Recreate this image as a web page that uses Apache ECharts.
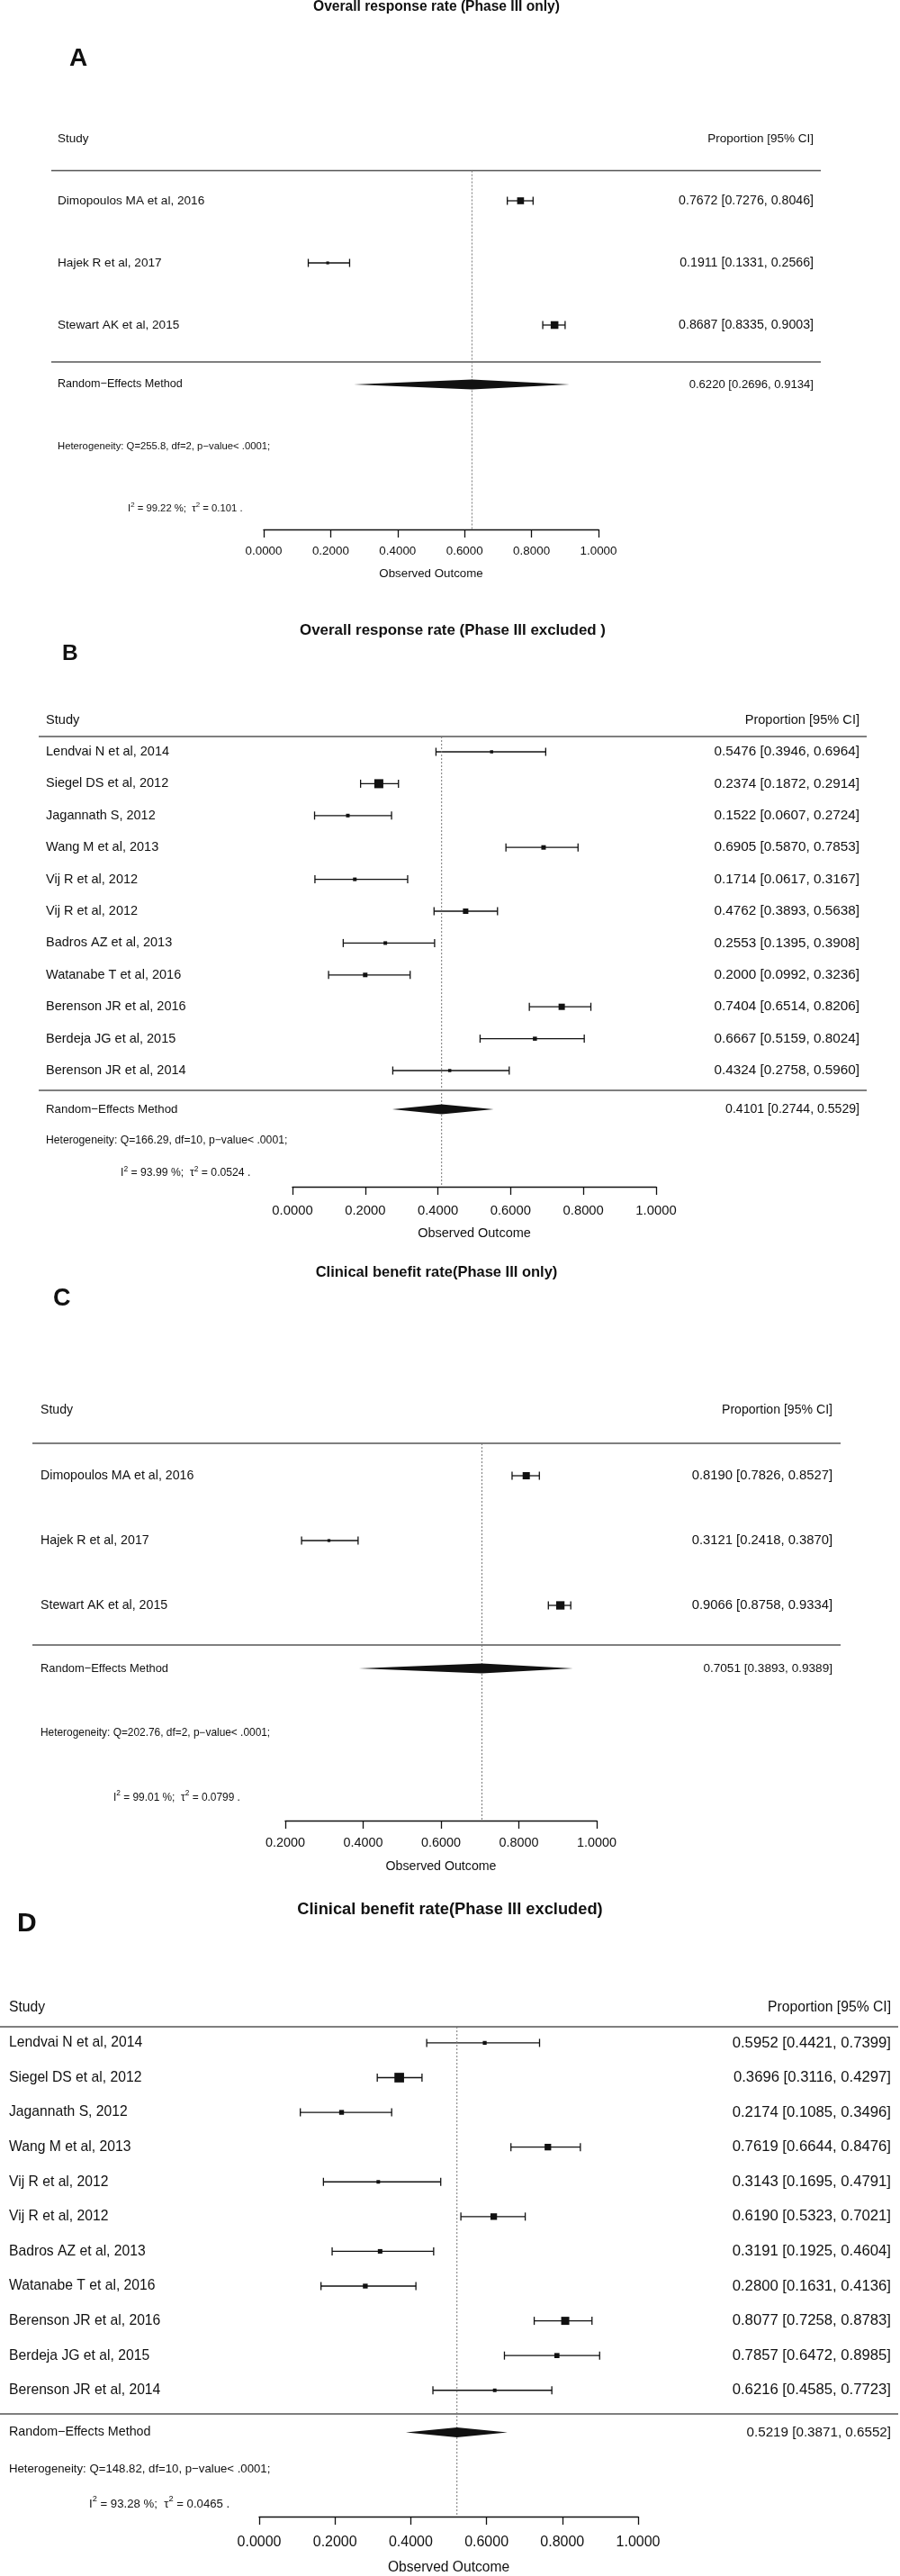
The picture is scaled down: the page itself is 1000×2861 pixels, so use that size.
<!DOCTYPE html>
<html><head><meta charset="utf-8">
<script src="https://cdn.jsdelivr.net/npm/echarts@6/dist/echarts.min.js"></script>
<style>html,body{margin:0;padding:0;background:#fff}#c{width:1000px;height:2861px}</style>
</head><body><div id="c"></div>
<script>
// ================= DATA =================
const panelTitles = ['Overall response rate (Phase III only)', 'Overall response rate (Phase III excluded )',
  'Clinical benefit rate(Phase III only)', 'Clinical benefit rate(Phase III excluded)'];
const panelLetters = ['A', 'B', 'C', 'D'];
const headerLeft = 'Study';
const headerRight = 'Proportion [95% CI]';
const summaryLabel = 'Random\u2212Effects Method';
const axisName = 'Observed Outcome';

// Panel A
const studiesA = ['Dimopoulos MA et al, 2016', 'Hajek R et al, 2017', 'Stewart AK et al, 2015'];
const estA  = [0.7672, 0.1911, 0.8687];
const lowA  = [0.7276, 0.1331, 0.8335];
const highA = [0.8046, 0.2566, 0.9003];
const wtA   = [0.85, 0.35, 0.95];
const summaryA = [0.6220, 0.2696, 0.9134];
const hetA = ['255.8', '2', '99.22', '0.101'];
const rangeA = [0, 1];

// Panel B
const studiesB = ['Lendvai N et al, 2014', 'Siegel DS et al, 2012', 'Jagannath S, 2012', 'Wang M et al, 2013',
  'Vij R et al, 2012', 'Vij R et al, 2012', 'Badros AZ et al, 2013', 'Watanabe T et al, 2016',
  'Berenson JR et al, 2016', 'Berdeja JG et al, 2015', 'Berenson JR et al, 2014'];
const estB  = [0.5476, 0.2374, 0.1522, 0.6905, 0.1714, 0.4762, 0.2553, 0.2000, 0.7404, 0.6667, 0.4324];
const lowB  = [0.3946, 0.1872, 0.0607, 0.5870, 0.0617, 0.3893, 0.1395, 0.0992, 0.6514, 0.5159, 0.2758];
const highB = [0.6964, 0.2914, 0.2724, 0.7853, 0.3167, 0.5638, 0.3908, 0.3236, 0.8206, 0.8024, 0.5960];
const wtB   = [0.35, 1.0, 0.4, 0.5, 0.4, 0.6, 0.4, 0.5, 0.7, 0.45, 0.35];
const summaryB = [0.4101, 0.2744, 0.5529];
const hetB = ['166.29', '10', '93.99', '0.0524'];
const rangeB = [0, 1];

// Panel C
const studiesC = ['Dimopoulos MA et al, 2016', 'Hajek R et al, 2017', 'Stewart AK et al, 2015'];
const estC  = [0.8190, 0.3121, 0.9066];
const lowC  = [0.7826, 0.2418, 0.8758];
const highC = [0.8527, 0.3870, 0.9334];
const wtC   = [0.86, 0.35, 1.0];
const summaryC = [0.7051, 0.3893, 0.9389];
const hetC = ['202.76', '2', '99.01', '0.0799'];
const rangeC = [0.2, 1];

// Panel D
const studiesD = ['Lendvai N et al, 2014', 'Siegel DS et al, 2012', 'Jagannath S, 2012', 'Wang M et al, 2013',
  'Vij R et al, 2012', 'Vij R et al, 2012', 'Badros AZ et al, 2013', 'Watanabe T et al, 2016',
  'Berenson JR et al, 2016', 'Berdeja JG et al, 2015', 'Berenson JR et al, 2014'];
const estD  = [0.5952, 0.3696, 0.2174, 0.7619, 0.3143, 0.6190, 0.3191, 0.2800, 0.8077, 0.7857, 0.6216];
const lowD  = [0.4421, 0.3116, 0.1085, 0.6644, 0.1695, 0.5323, 0.1925, 0.1631, 0.7258, 0.6472, 0.4585];
const highD = [0.7399, 0.4297, 0.3496, 0.8476, 0.4791, 0.7021, 0.4604, 0.4136, 0.8783, 0.8985, 0.7723];
const wtD   = [0.4, 1.0, 0.5, 0.68, 0.37, 0.68, 0.47, 0.5, 0.84, 0.53, 0.37];
const summaryD = [0.5219, 0.3871, 0.6552];
const hetD = ['148.82', '10', '93.28', '0.0465'];
const rangeD = [0, 1];
const tickStep = 0.2;

// ================= LAYOUT / STYLE =================
const FONT = '"Liberation Sans", Arial, Helvetica, sans-serif';
const INK = '#111';
const LINE = '#555';
const LAYOUT = [
 {row0:223, step:69, sumY:427, top:189.5, bot:402, axisY:588, ax0:293, ax1:665, lineX0:57, lineX1:912, labelX:64, valueX:904,
  headerY:154, hetY:496, i2X:142, i2Y:565, titleX:485, titleY:8, titleFs:15.6, letterX:77, letterY:65, letterFs:28,
  labelFs:13.6, valueFs:14.2, headFs:13.5, sumLabelFs:12.6, sumValueFs:13.1, hetFs:11.3, tickFs:13.4, lblMargin:18, obsFs:13.3, nameGap:43, sq:9},
 {row0:835, step:35.4, sumY:1232, top:818, bot:1211, axisY:1318, ax0:325, ax1:729, lineX0:43, lineX1:963, labelX:51, valueX:955,
  headerY:800, hetY:1267, i2X:134, i2Y:1303, titleX:503, titleY:700, titleFs:16.9, letterX:69, letterY:726, letterFs:24.5,
  labelFs:14.5, valueFs:15.3, headFs:14.6, sumLabelFs:13.3, sumValueFs:14.1, hetFs:12.2, tickFs:14.8, lblMargin:19, obsFs:14.5, nameGap:44.5, sq:10},
 {row0:1639, step:72, sumY:1853, top:1603, bot:1827, axisY:2022, ax0:317, ax1:663, lineX0:36, lineX1:934, labelX:45, valueX:925,
  headerY:1566, hetY:1925, i2X:126, i2Y:1997, titleX:485, titleY:1413, titleFs:16.5, letterX:59, letterY:1443, letterFs:27,
  labelFs:14.2, valueFs:14.8, headFs:14.1, sumLabelFs:12.9, sumValueFs:13.6, hetFs:11.9, tickFs:14.4, lblMargin:18, obsFs:14.2, nameGap:44, sq:9.3},
 {row0:2269, step:38.8, sumY:2704, top:2251, bot:2681, axisY:2798, ax0:288, ax1:709, lineX0:0, lineX1:998, labelX:10, valueX:990,
  headerY:2230, hetY:2742, i2X:99, i2Y:2781, titleX:500, titleY:2121, titleFs:18.3, letterX:19, letterY:2137, letterFs:30,
  labelFs:15.7, valueFs:16.7, headFs:15.7, sumLabelFs:14.3, sumValueFs:15.2, hetFs:13.2, tickFs:16, lblMargin:21, obsFs:15.6, nameGap:49, sq:10.7}
];

const PANELS = [
  {names:studiesA, est:estA, low:lowA, high:highA, wt:wtA, sum:summaryA, het:hetA, range:rangeA},
  {names:studiesB, est:estB, low:lowB, high:highB, wt:wtB, sum:summaryB, het:hetB, range:rangeB},
  {names:studiesC, est:estC, low:lowC, high:highC, wt:wtC, sum:summaryC, het:hetC, range:rangeC},
  {names:studiesD, est:estD, low:lowD, high:highD, wt:wtD, sum:summaryD, het:hetD, range:rangeD}
];

const fmtCI = (e, l, h) => e.toFixed(4) + ' [' + l.toFixed(4) + ', ' + h.toFixed(4) + ']';
const txt = (x, y, text, fs, align, bold) => ({
  type: 'text', x: x, y: y, silent: true,
  style: {text: text, fill: INK, font: (bold ? 'bold ' : '') + fs + 'px ' + FONT,
    align: align, verticalAlign: 'middle', textAlign: align, textVerticalAlign: 'middle'}
});
// text with raised superscript "2"
const supTxt = (x, y, parts, fs) => ({
  type: 'text', x: x, y: y, silent: true,
  style: {
    text: parts.map(p => p.sup ? '{s|' + p.t + '}' : '{n|' + p.t + '}').join(''),
    align: 'left', verticalAlign: 'middle', textAlign: 'left', textVerticalAlign: 'middle',
    rich: {
      n: {fontSize: fs, fontFamily: FONT, fill: INK, color: INK, lineHeight: fs * 1.5, verticalAlign: 'middle'},
      s: {fontSize: fs * 0.7, fontFamily: FONT, fill: INK, color: INK, lineHeight: fs * 0.8, verticalAlign: 'top'}
    }
  }
});
const CAP = 4.5;

const grids = [], xAxes = [], yAxes = [], series = [], graphics = [];

PANELS.forEach((P, i) => {
  const L = LAYOUT[i];
  grids.push({left: L.ax0, width: L.ax1 - L.ax0, top: L.top, height: L.axisY - L.top});
  xAxes.push({
    gridIndex: i, type: 'value', min: P.range[0], max: P.range[1], interval: tickStep, position: 'bottom',
    axisLine: {show: true, onZero: false, lineStyle: {color: INK, width: 1.3}},
    axisTick: {show: true, inside: false, length: 9, lineStyle: {color: INK, width: 1.3}},
    axisLabel: {margin: L.lblMargin, fontSize: L.tickFs, fontFamily: FONT, color: INK,
      formatter: v => Number(v).toFixed(4), showMinLabel: true, showMaxLabel: true},
    splitLine: {show: false},
    name: axisName, nameLocation: 'middle', nameGap: L.nameGap,
    nameTextStyle: {fontSize: L.obsFs, fontFamily: FONT, color: INK}
  });
  yAxes.push({gridIndex: i, type: 'value', inverse: true, show: false,
    min: (L.top - L.row0) / L.step, max: (L.axisY - L.row0) / L.step});

  // individual studies
  series.push({
    type: 'custom', xAxisIndex: i, yAxisIndex: i, clip: false, silent: true,
    data: P.names.map((n, k) => [k, P.est[k], P.low[k], P.high[k], P.wt[k]]),
    encode: {x: [1, 2, 3], y: 0},
    renderItem: (params, api) => {
      const k = api.value(0);
      const e = api.coord([api.value(1), k]);
      const lo = api.coord([api.value(2), k]);
      const hi = api.coord([api.value(3), k]);
      const y = e[1];
      const s = L.sq * api.value(4);
      const ls = {stroke: INK, lineWidth: 1.3};
      const idx = params.dataIndex;
      return {type: 'group', children: [
        {type: 'line', shape: {x1: lo[0], y1: y, x2: hi[0], y2: y}, style: ls},
        {type: 'line', shape: {x1: lo[0], y1: y - CAP, x2: lo[0], y2: y + CAP}, style: ls},
        {type: 'line', shape: {x1: hi[0], y1: y - CAP, x2: hi[0], y2: y + CAP}, style: ls},
        {type: 'rect', shape: {x: e[0] - s / 2, y: y - s / 2, width: s, height: s}, style: {fill: INK}},
        txt(L.labelX, y, P.names[idx], L.labelFs, 'left'),
        txt(L.valueX, y, fmtCI(P.est[idx], P.low[idx], P.high[idx]), L.valueFs, 'right')
      ]};
    }
  });

  // summary diamond + reference line
  const sumRow = (L.sumY - L.row0) / L.step;
  series.push({
    type: 'custom', xAxisIndex: i, yAxisIndex: i, clip: false, silent: true,
    data: [[sumRow, P.sum[0], P.sum[1], P.sum[2]]],
    encode: {x: [1, 2, 3], y: 0},
    renderItem: (params, api) => {
      const r = api.value(0);
      const e = api.coord([api.value(1), r]);
      const lo = api.coord([api.value(2), r]);
      const hi = api.coord([api.value(3), r]);
      const y = e[1], h = 5.6;
      const cs = params.coordSys;
      return {type: 'group', children: [
        {type: 'line', shape: {x1: e[0], y1: cs.y, x2: e[0], y2: cs.y + cs.height},
          style: {stroke: '#777', lineWidth: 1, lineDash: [2, 2]}},
        {type: 'polygon', shape: {points: [[lo[0], y], [e[0], y - h], [hi[0], y], [e[0], y + h]]}, style: {fill: INK}},
        txt(L.labelX, y, summaryLabel, L.sumLabelFs, 'left'),
        txt(L.valueX, y, fmtCI(P.sum[0], P.sum[1], P.sum[2]), L.sumValueFs, 'right')
      ]};
    }
  });

  // decorations: separators, headers, heterogeneity, titles
  const sep = {stroke: LINE, lineWidth: 1.6};
  graphics.push({type: 'line', silent: true, shape: {x1: L.lineX0, y1: L.top, x2: L.lineX1, y2: L.top}, style: sep});
  graphics.push({type: 'line', silent: true, shape: {x1: L.lineX0, y1: L.bot, x2: L.lineX1, y2: L.bot}, style: sep});
  graphics.push(txt(L.labelX, L.headerY, headerLeft, L.headFs, 'left'));
  graphics.push(txt(L.valueX, L.headerY, headerRight, L.headFs, 'right'));
  graphics.push(txt(L.labelX, L.hetY, 'Heterogeneity: Q=' + P.het[0] + ', df=' + P.het[1] + ', p\u2212value< .0001;', L.hetFs, 'left'));
  graphics.push(supTxt(L.i2X, L.i2Y, [
    {t: 'I'}, {t: '2', sup: true}, {t: ' = ' + P.het[2] + ' %;  \u03c4'}, {t: '2', sup: true}, {t: ' = ' + P.het[3] + ' .'}
  ], L.hetFs));
  graphics.push(txt(L.titleX, L.titleY, panelTitles[i], L.titleFs, 'center', true));
  graphics.push(txt(L.letterX, L.letterY, panelLetters[i], L.letterFs, 'left', true));
});

const chart = echarts.init(document.getElementById('c'), null, {renderer: 'canvas'});
chart.setOption({
  animation: false,
  backgroundColor: '#fff',
  grid: grids, xAxis: xAxes, yAxis: yAxes, series: series,
  graphic: {elements: graphics}
});
</script>
</body></html>
